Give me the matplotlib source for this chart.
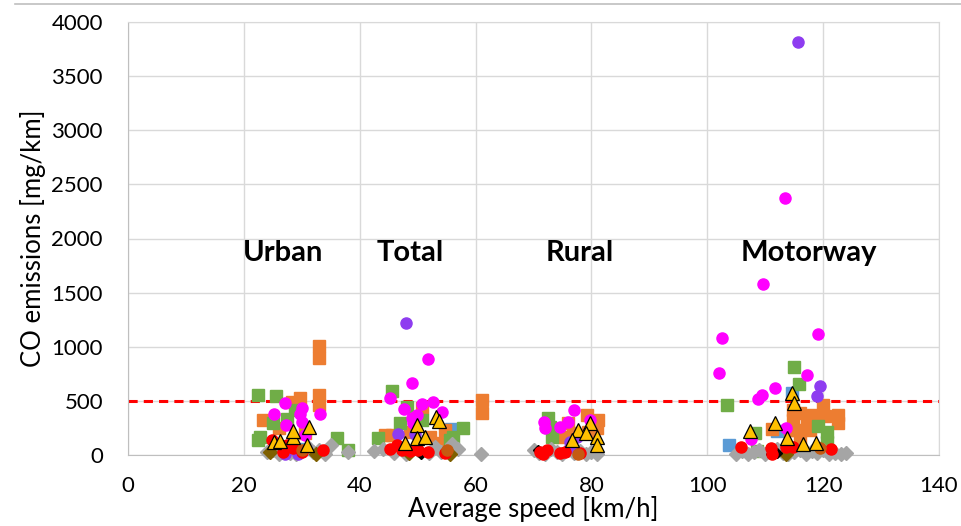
import numpy as np
import matplotlib.pyplot as plt
from matplotlib.lines import Line2D

plt.rcParams["font.family"] = ["Lato", "DejaVu Sans"]

# ---- data (speed km/h, CO mg/km) ----
blue_x = [103.7, 112.0, 114.6, 55.8, 30.5]
blue_y = [92, 222, 573, 240, 60]

orange_x = [33.0, 33.0, 33.0, 33.0, 29.7, 28.3, 23.3, 30.5, 26.0,
            61.1, 61.1, 44.4, 50.8, 54.7, 52.1, 48.7, 45.6, 53.3,
            79.2, 81.1, 81.0, 76.0, 74.9, 76.8, 79.4,
            120.0, 120.3, 122.6, 122.6, 114.8, 116.0, 118.2, 114.8, 117.2,
            115.5, 117.7, 114.3, 116.0, 111.2, 119.4]
orange_y = [1007, 896, 554, 462, 527, 490, 323, 200, 250,
            508, 388, 185, 434, 231, 166, 212, 185, 111,
            370, 323, 249, 296, 166, 203, 212,
            462, 360, 370, 296, 416, 388, 370, 323, 296,
            231, 231, 231, 166, 240, 65]

green_x = [22.4, 25.5, 25.0, 22.8, 22.4, 36.1, 38.0, 28.8, 27.4,
           45.6, 47.0, 48.2, 57.8, 56.1, 55.6, 43.2, 50.8,
           72.5, 72.8, 73.2,
           115.0, 115.8, 103.4, 108.2, 108.6, 120.7, 120.7, 119.1]
green_y = [554, 545, 296, 166, 139, 157, 46, 416, 333,
           591, 296, 443, 249, 166, 139, 157, 320,
           342, 259, 166,
           813, 656, 462, 203, 37, 120, 212, 268]

gray_x = [24, 25, 26, 27, 28, 29, 30, 31, 32, 33, 34, 35, 38,
          42.5, 44, 46, 48, 50, 52, 53, 54, 55, 56, 57, 61,
          70, 71, 72, 73, 74, 75, 76, 77, 78, 79, 80, 81,
          105, 106, 107, 108, 109, 110, 111, 112, 113, 114, 115, 116,
          117, 118, 119, 120, 121, 122, 123, 124]
gray_y = [30, 50, 10, 60, 20, 5, 40, 70, 30, 50, 10, 90, 25,
          40, 60, 20, 10, 45, 20, 70, 30, 50, 100, 60, 5,
          50, 20, 10, 60, 30, 5, 45, 20, 40, 10, 30, 5,
          10, 40, 5, 30, 50, 10, 40, 60, 20, 5, 30, 50,
          10, 40, 20, 45, 5, 20, 5, 15]

dkbrown_x = [24.5, 32.5, 48.5, 55.5, 113.6]
dkbrown_y = [30, 5, 20, 5, 10]

black_x = [50.5, 70.8, 111.0, 112.0]
black_y = [5, 46, 10, 20]

magenta_x = [27.1, 30.0, 29.7, 25.2, 33.1, 30.0, 27.3, 30.6,
             51.8, 49.0, 45.2, 50.8, 52.6, 47.6, 54.2, 49.9, 49.0, 49.2,
             77.0, 71.8, 72.0, 74.6, 76.0, 79.8,
             113.4, 109.6, 102.5, 119.1, 102.0, 117.2, 111.7, 109.4, 108.8,
             113.6, 107.5]
magenta_y = [480, 434, 379, 379, 379, 305, 277, 185,
             887, 665, 527, 471, 490, 425, 397, 370, 342, 296,
             416, 305, 249, 259, 305, 323,
             2374, 1580, 1081, 1118, 757, 739, 619, 554, 517,
             249, 148]

purple_x = [115.7, 119.4, 118.9, 48.0, 46.6, 49.5, 27.1, 29.3, 76.3, 76.3, 77.5]
purple_y = [3815, 637, 545, 1219, 194, 194, 10, 10, 120, 74, 166]

red_x = [24.9, 27.4, 28.5, 26.8, 33.7, 30.0,
         45.2, 46.4, 47.3, 48.7, 50.1, 51.8, 54.7,
         71.1, 72.3, 71.6, 74.6, 75.4, 78.0,
         105.8, 111.0, 111.2, 113.6, 114.8, 121.4]
red_y = [139, 92, 65, 28, 46, 30,
         55, 92, 46, 37, 46, 28, 18,
         28, 46, 5, 18, 28, 18,
         74, 65, 5, 74, 74, 55]

brown_x = [30.0, 55.1, 77.7, 119.4]
brown_y = [46, 46, 10, 65]

yellow_x = [31.2, 25.2, 26.2, 28.5, 28.5, 30.9,
            53.2, 53.7, 49.9, 49.9, 47.8, 51.3,
            77.7, 76.6, 79.8, 79.1, 81.0, 81.0,
            114.6, 115.0, 111.7, 107.4, 113.8, 116.5, 118.8]
yellow_y = [259, 120, 129, 166, 222, 92,
            351, 314, 277, 157, 111, 166,
            231, 139, 296, 203, 166, 92,
            573, 480, 296, 222, 157, 102, 111]

zones = ["Urban", "Total", "Rural", "Motorway"]
zone_x = [26.8, 48.8, 78.0, 117.5]
zone_y = 1866
limit = 500

fig = plt.figure(figsize=(9.61, 5.26), dpi=100)
ax = fig.add_axes([128 / 961, 1 - 455 / 526, (939 - 128) / 961, (455 - 22) / 526])

ms = 8
kw = dict(ls="none", clip_on=False)
ax.plot(blue_x, blue_y, "s", color="#5B9BD5", ms=ms, zorder=3, **kw)
ax.plot(orange_x, orange_y, "s", color="#ED7D31", ms=ms, zorder=3, **kw)
ax.plot(green_x, green_y, "s", color="#70AD47", ms=ms, zorder=3, **kw)
ax.plot(gray_x, gray_y, "D", color="#A5A5A5", ms=7, zorder=4, **kw)
ax.plot(dkbrown_x, dkbrown_y, "D", color="#7F6000", ms=7, zorder=4, **kw)
ax.plot(black_x, black_y, "D", color="black", ms=5.5, zorder=4, **kw)
ax.plot(magenta_x, magenta_y, "o", color="#FF00FF", ms=ms, zorder=5, **kw)
ax.plot(purple_x, purple_y, "o", color="#8E3CF0", ms=ms, zorder=5, **kw)
ax.plot(red_x, red_y, "o", color="#FF0000", ms=ms, zorder=5, **kw)
ax.plot(brown_x, brown_y, "o", color="#C55A11", ms=ms, zorder=5, **kw)
ax.plot(yellow_x, yellow_y, "^", color="#FFC000", mec="black", mew=0.9, ms=10,
        zorder=6, **kw)

ax.axhline(limit, color="#FF0000", ls=(0, (3, 2)), lw=2.2, zorder=2)

for name, x in zip(zones, zone_x):
    ax.text(x, zone_y, name, ha="center", va="center", fontsize=21,
            fontweight="bold", zorder=7)

ax.set_xlim(0, 140)
ax.set_ylim(0, 4000)
ax.set_xticks(np.arange(0, 141, 20))
ax.set_yticks(np.arange(0, 4001, 500))
ax.grid(True, color="#D9D9D9", lw=1, zorder=0)
ax.set_axisbelow(True)
for s in ax.spines.values():
    s.set_color("#D9D9D9")
ax.spines["left"].set_color("#BFBFBF")
ax.spines["bottom"].set_color("#BFBFBF")
ax.tick_params(length=0, labelsize=16)
ax.tick_params(axis="x", pad=15)
ax.tick_params(axis="y", pad=18)
ax.set_xlabel("Average speed [km/h]", fontsize=18.5, labelpad=0)
ax.set_ylabel("CO emissions [mg/km]", fontsize=18.5, labelpad=4)

fig.add_artist(Line2D([15 / 961, 1], [1 - 4 / 526, 1 - 4 / 526],
                      color="#BFBFBF", lw=1.2))

fig.savefig("out.png", dpi=100)
